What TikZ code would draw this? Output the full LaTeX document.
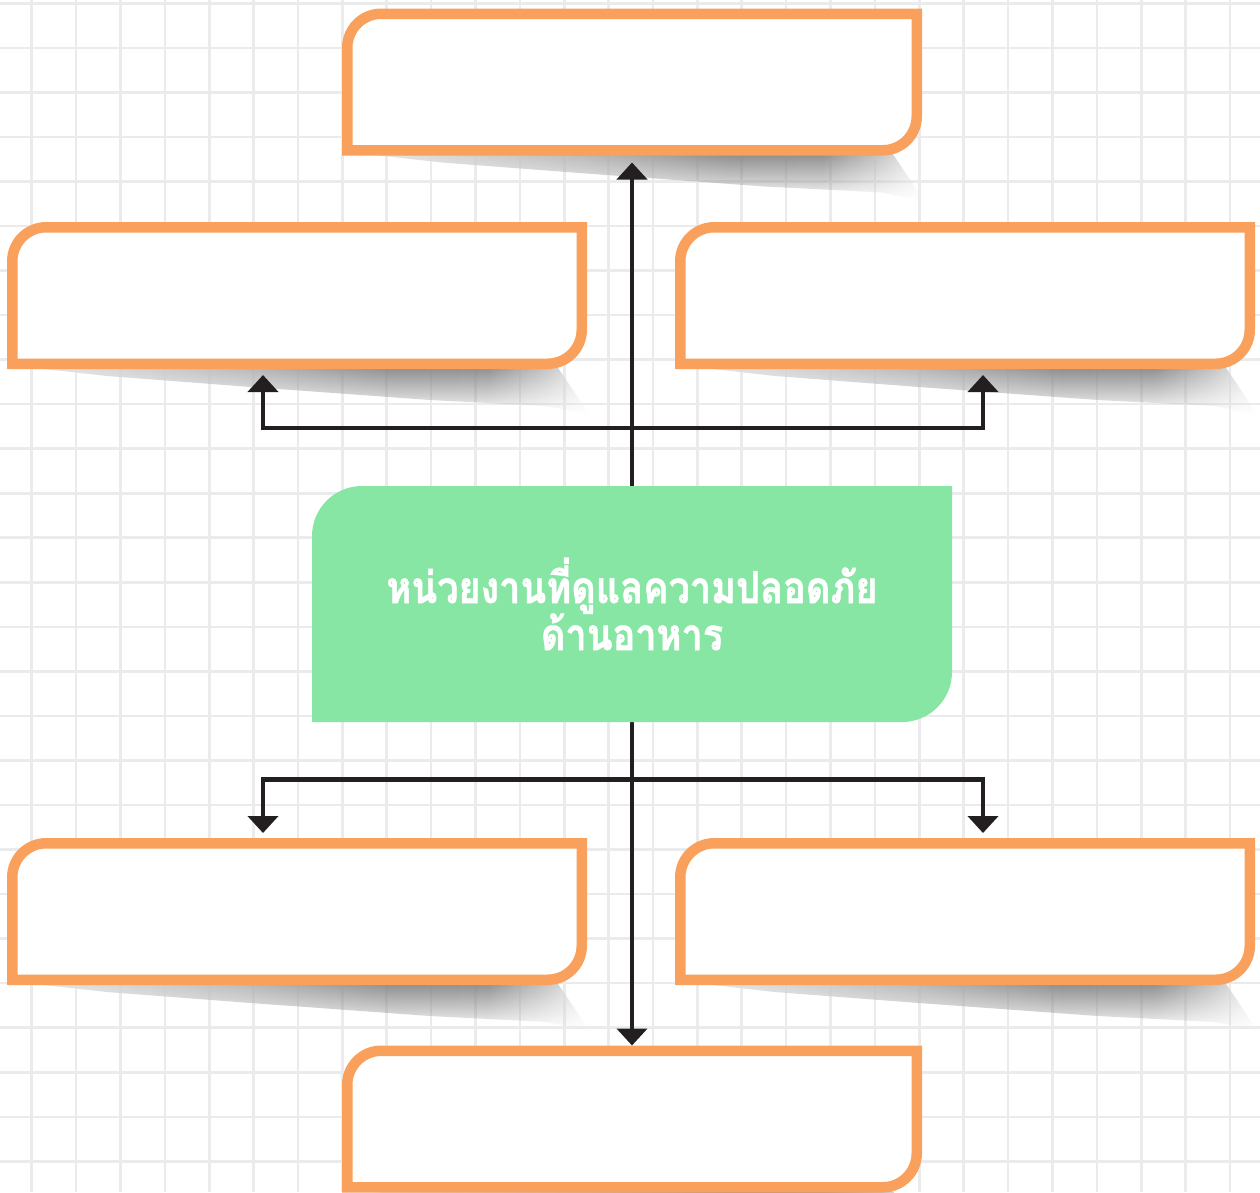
\documentclass[tikz,border=0pt]{standalone}
\usepackage{fontspec}
\newfontfamily\thaifont[Script=Thai, FakeStretch=0.86, FakeBold=1.2]{Loma}
\usetikzlibrary{arrows.meta,calc,fadings}

\definecolor{gridgray}{HTML}{EBEBEE}
\definecolor{boxorange}{HTML}{F8A05C}
\definecolor{hubgreen}{HTML}{87E6A3}
\definecolor{inkline}{HTML}{231F20}

% soft curled-paper shadow: light on the left, darkest near the lower right corner
\pgfdeclarehorizontalshading{curlshade}{100bp}{%
  color(0bp)=(black!8); color(25bp)=(black!8); color(45bp)=(black!28);
  color(58bp)=(black!46); color(66bp)=(black!45); color(71bp)=(black!24);
  color(75bp)=(black!4); color(100bp)=(black!4)}
% opacity falls off quickly below the card edge
\tikzfading[name=shadowdrop, top color=transparent!0,
  middle color=transparent!55, bottom color=transparent!100]

\tikzset{
  gridline/.style={draw=gridgray, line width=2.6pt},
  cardslot/.style={rectangle, inner sep=0pt, outer sep=0pt,
    minimum width=580pt, minimum height=147pt},
  cardedge/.style={draw=boxorange, fill=white, line width=10.5pt},
  cardshadow/.style={shading=curlshade, path fading=shadowdrop},
  hubslot/.style={rectangle, inner sep=0pt, outer sep=0pt,
    minimum width=640pt, minimum height=236pt},
  conn/.style={draw=inkline, line width=4.5pt,
    -{Triangle[width=30pt,length=17pt]}},
  hubtext/.style={text=white, inner sep=0pt,
    font=\thaifont\bfseries\fontsize{44}{50}\selectfont},
}

% card frame: rounded top-left and bottom-right corners, shadow underneath
\newcommand\papercard[1]{%
  \shade[cardshadow]
    ($(#1.south west)+(10,-3)$) -- ($(#1.south east)+(-30,-3)$)
    -- ($(#1.south east)+(3,46)$) -- ($(#1.south east)+(-40,37)$)
    -- ($(#1.south west)+(423,31)$) -- ($(#1.south west)+(244,18)$)
    -- ($(#1.south west)+(100,7)$) -- cycle;
  \draw[cardedge]
    ($(#1.south west)+(5.25,-5.25)$) -- ($(#1.north west)+(5.25,39.25)$)
    arc[start angle=180, end angle=270, radius=34]
    -- ($(#1.north east)+(-5.25,5.25)$) -- ($(#1.south east)+(-5.25,-39.25)$)
    arc[start angle=0, end angle=90, radius=34] -- cycle;
}

\begin{document}
\begin{tikzpicture}[x=1pt, y=-1pt]
  \useasboundingbox (0,0) rectangle (1260,1192);
  \fill[white] (0,0) rectangle (1260,1192);

  % squared paper
  \foreach \k in {-1,...,28}
    \draw[gridline] ({31.7+44.38*\k},0) -- ++(0,1192);
  \foreach \k in {0,...,26}
    \draw[gridline] (0,{3.3+44.54*\k}) -- ++(1260,0);

  % card positions
  \node[cardslot] (top) at (632,82)    {};
  \node[cardslot] (ml)  at (297,295.5) {};
  \node[cardslot] (mr)  at (965,295.5) {};
  \node[cardslot] (bl)  at (297,911.5) {};
  \node[cardslot] (br)  at (965,911.5) {};
  \node[cardslot] (bot) at (632,1119)  {};
  \node[hubslot]  (hub) at (632,604)   {};

  \papercard{top}
  \papercard{ml}
  \papercard{mr}
  \papercard{bl}
  \papercard{br}
  \papercard{bot}

  % connectors
  \coordinate (forkU) at (632,428);
  \coordinate (forkD) at (632,779.5);
  \draw[conn] (hub.north) -- ($(top.south)+(0,7)$);
  \draw[conn] (hub.south) -- (bot.north);
  \draw[conn] (forkU) -| ($(ml.south)+(-34,6)$);
  \draw[conn] (forkU) -| ($(mr.south)+(18,6)$);
  \draw[conn] (forkD) -| ($(bl.north)+(-34,-5)$);
  \draw[conn] (forkD) -| ($(br.north)+(18,-5)$);

  % central green card
  \fill[hubgreen]
    (hub.south west) -- ($(hub.north west)+(0,50)$)
    arc[start angle=180, end angle=270, radius=50]
    -- (hub.north east) -- ($(hub.south east)+(0,-50)$)
    arc[start angle=0, end angle=90, radius=50] -- cycle;
  \node[hubtext, anchor=base] (lineA) at (632,603) {หน่วยงานที่ดูแลความปลอดภัย};
  \node[hubtext, anchor=base] (lineB) at (632,650) {ด้านอาหาร};
\end{tikzpicture}
\end{document}
